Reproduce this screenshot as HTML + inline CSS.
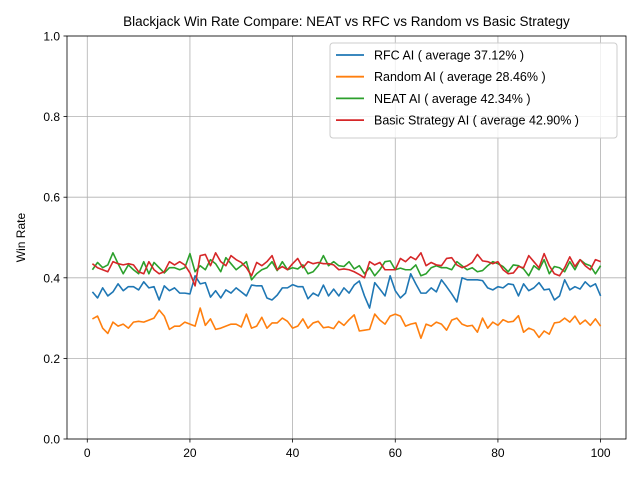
<!DOCTYPE html>
<html><head><meta charset="utf-8"><style>
body{margin:0;background:#fff}
svg text{font-family:"Liberation Sans","DejaVu Sans",sans-serif}
</style></head><body>
<svg id="chart" width="640" height="480" xmlns="http://www.w3.org/2000/svg"></svg>
<script>
const rfc=[0.365,0.350,0.375,0.355,0.365,0.385,0.368,0.378,0.378,0.370,0.390,0.375,0.378,0.345,0.380,0.368,0.375,0.362,0.362,0.360,0.405,0.385,0.388,0.352,0.368,0.350,0.370,0.362,0.375,0.365,0.355,0.382,0.380,0.380,0.350,0.345,0.357,0.375,0.375,0.383,0.378,0.378,0.348,0.362,0.355,0.382,0.355,0.372,0.355,0.375,0.362,0.382,0.392,0.355,0.325,0.388,0.372,0.355,0.405,0.368,0.350,0.362,0.410,0.385,0.362,0.362,0.375,0.365,0.395,0.378,0.360,0.340,0.400,0.395,0.395,0.395,0.393,0.375,0.370,0.378,0.375,0.385,0.383,0.355,0.385,0.368,0.375,0.388,0.370,0.372,0.345,0.355,0.395,0.370,0.378,0.372,0.390,0.378,0.385,0.355];
const rnd=[0.298,0.305,0.275,0.262,0.290,0.280,0.285,0.275,0.290,0.292,0.290,0.295,0.300,0.320,0.305,0.272,0.280,0.280,0.290,0.285,0.280,0.325,0.282,0.298,0.272,0.275,0.280,0.285,0.285,0.278,0.310,0.275,0.280,0.302,0.275,0.288,0.288,0.300,0.292,0.275,0.280,0.298,0.275,0.288,0.292,0.276,0.278,0.274,0.292,0.282,0.296,0.308,0.268,0.270,0.272,0.310,0.295,0.285,0.305,0.310,0.305,0.280,0.285,0.288,0.250,0.285,0.280,0.290,0.285,0.270,0.295,0.300,0.285,0.280,0.282,0.265,0.300,0.275,0.290,0.282,0.296,0.290,0.292,0.306,0.265,0.275,0.270,0.252,0.268,0.260,0.288,0.290,0.300,0.290,0.305,0.285,0.295,0.282,0.298,0.280];
const neat=[0.420,0.438,0.425,0.432,0.462,0.435,0.410,0.432,0.420,0.410,0.440,0.410,0.438,0.425,0.412,0.425,0.425,0.420,0.425,0.460,0.415,0.430,0.420,0.445,0.435,0.415,0.450,0.435,0.420,0.430,0.440,0.395,0.410,0.420,0.425,0.440,0.418,0.440,0.420,0.425,0.422,0.432,0.410,0.415,0.430,0.455,0.430,0.440,0.430,0.428,0.440,0.422,0.430,0.410,0.425,0.405,0.420,0.440,0.442,0.420,0.424,0.420,0.420,0.432,0.405,0.410,0.425,0.430,0.425,0.425,0.420,0.440,0.430,0.420,0.425,0.415,0.418,0.430,0.440,0.435,0.428,0.415,0.432,0.430,0.422,0.405,0.430,0.420,0.445,0.410,0.428,0.425,0.415,0.440,0.420,0.445,0.435,0.430,0.410,0.430];
const bas=[0.435,0.425,0.420,0.415,0.440,0.435,0.432,0.435,0.432,0.415,0.410,0.440,0.420,0.410,0.415,0.440,0.432,0.440,0.432,0.412,0.380,0.455,0.458,0.430,0.462,0.440,0.430,0.455,0.445,0.438,0.425,0.405,0.438,0.430,0.440,0.455,0.420,0.428,0.420,0.435,0.448,0.425,0.440,0.435,0.438,0.435,0.435,0.432,0.420,0.422,0.420,0.415,0.408,0.400,0.440,0.432,0.438,0.420,0.420,0.420,0.448,0.440,0.452,0.445,0.462,0.430,0.438,0.432,0.430,0.448,0.450,0.432,0.425,0.430,0.438,0.458,0.442,0.440,0.435,0.440,0.420,0.410,0.412,0.428,0.425,0.455,0.440,0.425,0.460,0.430,0.410,0.405,0.425,0.452,0.428,0.445,0.430,0.420,0.445,0.440];
const xTicks=[0,20,40,60,80,100];
const yTicks=[0.0,0.2,0.4,0.6,0.8,1.0];
const names=["RFC AI ( average 37.12% )","Random AI ( average 28.46% )","NEAT AI ( average 42.34% )","Basic Strategy AI ( average 42.90% )"];
const colors=["#1f77b4","#ff7f0e","#2ca02c","#d62728"];
const series=[rfc,rnd,neat,bas];
const L=67,R=626,T=36,B=439;
const xmin=-3.95,xmax=104.95;
const sx=v=>L+(v-xmin)/(xmax-xmin)*(R-L);
const sy=v=>B-v*(B-T);
const svg=document.getElementById('chart');
const NS="http://www.w3.org/2000/svg";
function mk(tag,attrs,parent){const e=document.createElementNS(NS,tag);for(const k in attrs)e.setAttribute(k,attrs[k]);(parent||svg).appendChild(e);return e;}
xTicks.forEach(t=>{const g=mk('line',{x1:sx(t),x2:sx(t),y1:T,y2:B,stroke:'#b0b0b0','stroke-width':0.8});


const tk=mk('line',{x1:sx(t),x2:sx(t),y1:B,y2:B+3.5,stroke:'#000','stroke-width':0.8});


const tx=mk('text',{x:sx(t),y:B+18,'text-anchor':'middle','font-size':12});tx.textContent=t;

});
yTicks.forEach(t=>{const g=mk('line',{x1:L,x2:R,y1:sy(t),y2:sy(t),stroke:'#b0b0b0','stroke-width':0.8});


const tk=mk('line',{x1:L-3.5,x2:L,y1:sy(t),y2:sy(t),stroke:'#000','stroke-width':0.8});


const tx=mk('text',{x:L-7,y:sy(t)+4.5,'text-anchor':'end','font-size':12});tx.textContent=t.toFixed(1);

});
series.forEach((s,i)=>{const p=mk('polyline',{points:s.map((v,j)=>sx(j+1)+','+sy(v)).join(' '),fill:'none',stroke:colors[i],'stroke-width':1.6,'stroke-linejoin':'round'});

});
const fr=mk('rect',{x:L,y:T,width:R-L,height:B-T,fill:'none',stroke:'#000','stroke-width':0.8});


const title=mk('text',{x:(L+R)/2,y:26,'text-anchor':'middle','font-size':13.5});title.textContent="Blackjack Win Rate Compare: NEAT vs RFC vs Random vs Basic Strategy";


const yl=mk('text',{x:25,y:(T+B)/2,'text-anchor':'middle','font-size':12,transform:`rotate(-90 25 ${(T+B)/2})`});yl.textContent="Win Rate";


const lg=mk('g',{});


mk('rect',{x:330,y:43,width:287,height:95,rx:3,fill:'#fff','fill-opacity':0.8,stroke:'#ccc'},lg);
names.forEach((n,i)=>{const y=55+i*21.7;
const ln=mk('line',{x1:336,x2:364,y1:y,y2:y,stroke:colors[i],'stroke-width':1.8},lg);


const t=mk('text',{x:374,y:y+4.5,'font-size':12.5},lg);t.textContent=n;

});
</script>
</body></html>
